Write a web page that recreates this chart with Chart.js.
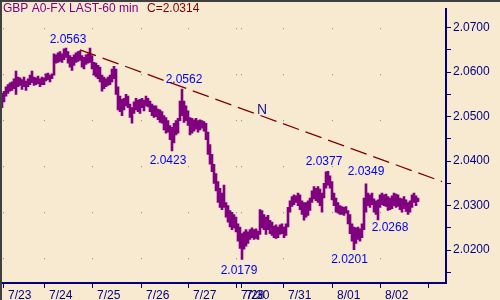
<!DOCTYPE html>
<html lang="en">
<head>
<meta charset="UTF-8">
<title>GBP A0-FX LAST-60 min</title>
<script src="https://cdn.jsdelivr.net/npm/chart.js"></script>
<style>
  html, body { margin: 0; padding: 0; background: #f8ead1; }
  canvas { display: block; }
</style>
</head>
<body>
<canvas id="fx" width="500" height="300"></canvas>
<script>
// hourly bars, index 0 = first bar shown (7/23)
const barHigh = [
  2.0552, 2.0557, 2.0567, 2.0572, 2.0576, 2.0578, 2.0585, 2.0602, 2.0589, 2.0587,
  2.0583, 2.0589, 2.0580, 2.0585, 2.0593, 2.0602, 2.0589, 2.0587, 2.0591, 2.0585,
  2.0589, 2.0587, 2.0596, 2.0598, 2.0593, 2.0596, 2.0641, 2.0639, 2.0643, 2.0646,
  2.0641, 2.0652, 2.0654, 2.0646, 2.0637, 2.0633, 2.0639, 2.0643, 2.0646, 2.0648,
  2.0637, 2.0633, 2.0639, 2.0641, 2.0654, 2.0637, 2.0622, 2.0620, 2.0615, 2.0611,
  2.0593, 2.0589, 2.0585, 2.0589, 2.0593, 2.0607, 2.0613, 2.0607, 2.0567, 2.0546,
  2.0539, 2.0541, 2.0550, 2.0546, 2.0528, 2.0520, 2.0533, 2.0541, 2.0537, 2.0539,
  2.0541, 2.0537, 2.0546, 2.0541, 2.0535, 2.0528, 2.0524, 2.0524, 2.0517, 2.0515,
  2.0511, 2.0502, 2.0498, 2.0491, 2.0480, 2.0476, 2.0485, 2.0491, 2.0496, 2.0535,
  2.0562, 2.0535, 2.0524, 2.0513, 2.0498, 2.0496, 2.0493, 2.0496, 2.0491, 2.0493,
  2.0491, 2.0489, 2.0485, 2.0465, 2.0437, 2.0415, 2.0393, 2.0372, 2.0354, 2.0339,
  2.0328, 2.0346, 2.0307, 2.0300, 2.0289, 2.0285, 2.0280, 2.0274, 2.0259, 2.0252,
  2.0237, 2.0241, 2.0246, 2.0241, 2.0246, 2.0250, 2.0246, 2.0248, 2.0243, 2.0291,
  2.0289, 2.0280, 2.0274, 2.0278, 2.0267, 2.0263, 2.0254, 2.0257, 2.0252, 2.0257,
  2.0259, 2.0252, 2.0259, 2.0296, 2.0311, 2.0320, 2.0324, 2.0322, 2.0328, 2.0324,
  2.0311, 2.0307, 2.0307, 2.0311, 2.0317, 2.0333, 2.0343, 2.0339, 2.0343, 2.0337,
  2.0328, 2.0350, 2.0376, 2.0377, 2.0367, 2.0354, 2.0328, 2.0317, 2.0307, 2.0300,
  2.0298, 2.0296, 2.0298, 2.0289, 2.0280, 2.0259, 2.0252, 2.0250, 2.0252, 2.0248,
  2.0259, 2.0317, 2.0349, 2.0328, 2.0324, 2.0328, 2.0315, 2.0311, 2.0313, 2.0324,
  2.0328, 2.0324, 2.0326, 2.0320, 2.0317, 2.0322, 2.0328, 2.0326, 2.0324, 2.0317,
  2.0315, 2.0320, 2.0313, 2.0307, 2.0311, 2.0324, 2.0328, 2.0322, 2.0317
];
const barLow = [
  2.0520, 2.0533, 2.0546, 2.0552, 2.0557, 2.0559, 2.0563, 2.0550, 2.0567, 2.0570,
  2.0561, 2.0567, 2.0559, 2.0567, 2.0572, 2.0576, 2.0570, 2.0572, 2.0574, 2.0567,
  2.0572, 2.0572, 2.0580, 2.0583, 2.0578, 2.0585, 2.0593, 2.0620, 2.0622, 2.0624,
  2.0622, 2.0628, 2.0633, 2.0620, 2.0611, 2.0604, 2.0615, 2.0622, 2.0624, 2.0626,
  2.0611, 2.0607, 2.0617, 2.0620, 2.0622, 2.0607, 2.0593, 2.0589, 2.0585, 2.0578,
  2.0557, 2.0563, 2.0567, 2.0570, 2.0572, 2.0578, 2.0585, 2.0550, 2.0515, 2.0511,
  2.0502, 2.0515, 2.0524, 2.0520, 2.0498, 2.0485, 2.0507, 2.0515, 2.0511, 2.0507,
  2.0520, 2.0513, 2.0524, 2.0522, 2.0511, 2.0502, 2.0498, 2.0500, 2.0493, 2.0487,
  2.0485, 2.0470, 2.0463, 2.0465, 2.0448, 2.0423, 2.0441, 2.0459, 2.0463, 2.0491,
  2.0502, 2.0487, 2.0491, 2.0480, 2.0459, 2.0463, 2.0467, 2.0472, 2.0465, 2.0470,
  2.0474, 2.0467, 2.0448, 2.0415, 2.0393, 2.0376, 2.0350, 2.0333, 2.0307, 2.0296,
  2.0291, 2.0296, 2.0274, 2.0263, 2.0252, 2.0246, 2.0250, 2.0241, 2.0220, 2.0204,
  2.0179, 2.0202, 2.0209, 2.0215, 2.0224, 2.0228, 2.0224, 2.0226, 2.0224, 2.0235,
  2.0250, 2.0246, 2.0235, 2.0246, 2.0237, 2.0233, 2.0228, 2.0226, 2.0228, 2.0235,
  2.0237, 2.0228, 2.0233, 2.0252, 2.0285, 2.0298, 2.0302, 2.0307, 2.0300, 2.0291,
  2.0280, 2.0267, 2.0274, 2.0278, 2.0289, 2.0307, 2.0315, 2.0311, 2.0307, 2.0300,
  2.0285, 2.0317, 2.0339, 2.0346, 2.0339, 2.0313, 2.0300, 2.0285, 2.0283, 2.0280,
  2.0280, 2.0278, 2.0283, 2.0259, 2.0237, 2.0220, 2.0201, 2.0215, 2.0224, 2.0220,
  2.0228, 2.0246, 2.0285, 2.0300, 2.0296, 2.0302, 2.0285, 2.0280, 2.0268, 2.0296,
  2.0302, 2.0300, 2.0298, 2.0289, 2.0291, 2.0293, 2.0300, 2.0296, 2.0298, 2.0291,
  2.0285, 2.0293, 2.0287, 2.0280, 2.0285, 2.0296, 2.0307, 2.0300, 2.0309
];
const lastClose = '2.0314';

// day boundaries (in bar index) and their labels
const dayTickIdx = [0.5, 21, 45, 69.5, 93, 117, 119.5, 140.5, 165, 189, 213];
const dayLabels = ['7/23', '7/24', '7/25', '7/26', '7/27', '7/28', '7/30', '7/31', '8/01', '8/02', ''];

const priceTicks = [2.015, 2.020, 2.025, 2.030, 2.035, 2.040, 2.045, 2.050, 2.055, 2.060, 2.065, 2.070];

// trendline "N"
const trendIdx = [39, 220];
const trendVal = [2.0650, 2.0354];

// text notes on the chart
const noteText = ['2.0563', '2.0562', '2.0423', '2.0179', '2.0377', '2.0349', '2.0201', '2.0268', 'N'];
const noteIdx  = [33, 91, 83, 118.5, 161, 182, 173.75, 194, 130];
const noteVal  = [2.0673, 2.0584, 2.0402, 2.0154, 2.0399, 2.0376, 2.0179, 2.0250, 2.0515];

const FONT = '"Liberation Sans", Arial, sans-serif';
const NAVY = '#000080';
const BG = '#f8ead1';

const chrome = {
  id: 'chrome',
  beforeDraw(chart) {
    const c = chart.ctx;
    c.save();
    c.fillStyle = BG;
    c.fillRect(0, 0, chart.width, chart.height);
    c.restore();
  },
  afterDraw(chart) {
    const c = chart.ctx;
    c.save();
    c.fillStyle = '#404040';
    c.fillRect(0, 0, chart.width, 2);
    c.fillRect(0, 0, 2, chart.height);
    c.font = '12px ' + FONT;
    c.textBaseline = 'middle';
    c.textAlign = 'left';
    c.fillStyle = '#800080';
    c.fillText('GBP A0-FX LAST-60 min', 3, 8.5);
    c.fillStyle = '#800000';
    c.fillText('C=' + lastClose, 147, 8.5);
    c.restore();
  }
};

const notes = {
  id: 'notes',
  afterDatasetsDraw(chart) {
    const c = chart.ctx, xs = chart.scales.x, ys = chart.scales.y;
    c.save();
    c.textAlign = 'center';
    c.textBaseline = 'middle';
    noteText.forEach((t, i) => {
      const isN = t === 'N';
      c.font = (isN ? '14px ' : '12px ') + FONT;
      c.fillStyle = isN ? '#1c1c8c' : '#0000ff';
      c.fillText(t, xs.getPixelForValue(noteIdx[i]), ys.getPixelForValue(noteVal[i]));
    });
    c.restore();
  }
};

new Chart(document.getElementById('fx'), {
  type: 'bar',
  data: {
    datasets: [
      {
        type: 'line',
        data: trendIdx.map((x, i) => ({ x: x, y: trendVal[i] })),
        borderColor: '#800000',
        borderWidth: 1.3,
        borderDash: [17, 7],
        pointRadius: 0,
        fill: false
      },
      {
        data: barHigh.map((h, i) => ({ x: i, y: [barLow[i], h] })),
        backgroundColor: '#800080',
        borderWidth: 0,
        borderSkipped: false,
        barThickness: 2,
        grouped: false
      }
    ]
  },
  options: {
    responsive: false,
    animation: false,
    devicePixelRatio: 1,
    layout: { padding: 0 },
    plugins: { legend: { display: false }, tooltip: { enabled: false } },
    scales: {
      x: {
        type: 'linear',
        min: -1,
        max: 222,
        offset: false,
        afterBuildTicks: s => { s.ticks = dayTickIdx.map(v => ({ value: v })); },
        afterFit: s => { s.height = 17; },
        grid: {
          offset: false,
          color: ctx => ctx.index === dayTickIdx.length - 1 ? 'rgba(0,0,0,0)' : '#808080',
          lineWidth: 1,
          tickColor: NAVY,
          tickLength: 5
        },
        border: { color: NAVY, width: 2, dash: [1, 45], dashOffset: 27 },
        ticks: {
          autoSkip: false,
          maxRotation: 0,
          align: 'start',
          labelOffset: 5,
          padding: 0,
          color: NAVY,
          font: { family: FONT, size: 12 },
          callback: (v, i) => dayLabels[i]
        }
      },
      y: {
        position: 'right',
        min: 2.01261,
        max: 2.07413,
        beginAtZero: false,
        afterBuildTicks: s => { s.ticks = priceTicks.map(v => ({ value: v })); },
        afterFit: s => { s.width = 54; },
        grid: { drawOnChartArea: false, tickColor: NAVY, tickLength: 5 },
        border: { color: NAVY, width: 2 },
        ticks: {
          padding: 2,
          color: NAVY,
          font: { family: FONT, size: 12 },
          callback: v => Math.round(v * 10000) % 100 === 0 ? v.toFixed(4) : ''
        }
      }
    }
  },
  plugins: [chrome, notes]
});
</script>
</body>
</html>
